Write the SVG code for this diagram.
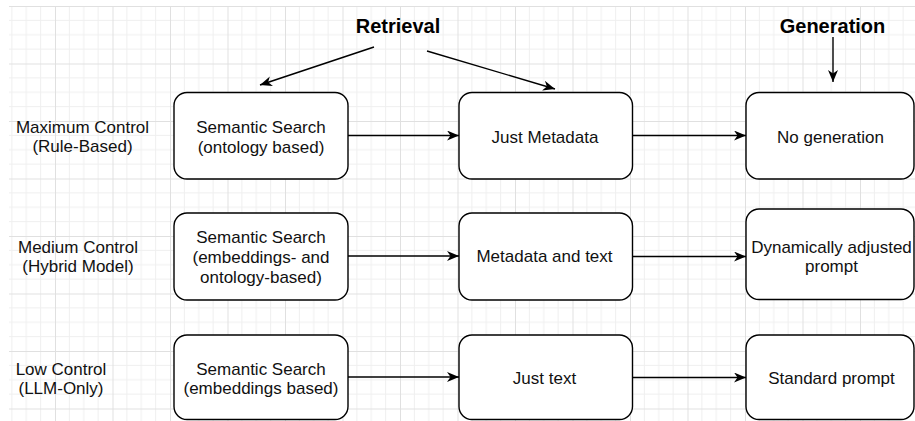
<svg xmlns="http://www.w3.org/2000/svg" width="915" height="421" viewBox="0 0 915 421">
  <style>
    .box { fill: #ffffff; stroke: #000000; stroke-width: 1.4; }
    .t { font-family: "Liberation Sans", Arial, sans-serif; font-size: 17px; fill: #111111; text-anchor: middle; }
    .h { font-family: "Liberation Sans", Arial, sans-serif; font-size: 20px; font-weight: bold; fill: #000000; text-anchor: middle; }
    .c { stroke: #000000; stroke-width: 1.4; fill: none; marker-end: url(#arr); }
  </style>
  <defs>
    <pattern id="grid" patternUnits="userSpaceOnUse" x="55" y="6" width="57.5" height="57.5">
      <path d="M14.375 0V57.5M28.75 0V57.5M43.125 0V57.5M0 14.375H57.5M0 28.75H57.5M0 43.125H57.5" stroke="#efefef" stroke-width="1" fill="none"/>
      <path d="M0.5 0V57.5M0 0.5H57.5" stroke="#e0e0e0" stroke-width="1" fill="none"/>
    </pattern>
    <marker id="arr" markerUnits="userSpaceOnUse" markerWidth="14" markerHeight="12" refX="12" refY="5" orient="auto">
      <path d="M0,0 L12,5 L0,10 L3.5,5 Z" fill="#000000"/>
    </marker>
  </defs>
  <rect x="0" y="0" width="915" height="421" fill="#ffffff"/>
  <rect x="9" y="6" width="906" height="415" fill="url(#grid)"/>

  <g id="connectors">
    <line class="c" x1="374" y1="47" x2="260" y2="85"/>
    <line class="c" x1="427" y1="51" x2="555" y2="89"/>
    <line class="c" x1="833" y1="37" x2="833" y2="82"/>
    <line class="c" x1="348" y1="135.5" x2="459" y2="135.5"/>
    <line class="c" x1="632" y1="135.5" x2="746" y2="135.5"/>
    <line class="c" x1="348" y1="256" x2="459" y2="256"/>
    <line class="c" x1="632" y1="256.5" x2="746" y2="256.5"/>
    <line class="c" x1="348" y1="377" x2="459" y2="377"/>
    <line class="c" x1="632" y1="377.5" x2="746" y2="377.5"/>
  </g>

  <g id="retrieval"><text class="h" x="398" y="33">Retrieval</text></g>
  <g id="generation"><text class="h" x="832.5" y="33">Generation</text></g>

  <g id="label-max">
    <text class="t" x="82.5" y="132.5">Maximum Control</text>
    <text class="t" x="82.5" y="152">(Rule-Based)</text>
  </g>
  <g id="label-med">
    <text class="t" x="78" y="252.5">Medium Control</text>
    <text class="t" x="78" y="272">(Hybrid Model)</text>
  </g>
  <g id="label-low">
    <text class="t" x="61" y="374.5">Low Control</text>
    <text class="t" x="61" y="394">(LLM-Only)</text>
  </g>

  <g id="ss-ontology">
    <rect class="box" x="174" y="92.5" width="174" height="86.5" rx="13"/>
    <text class="t" x="261" y="132.5">Semantic Search</text>
    <text class="t" x="261" y="152.5">(ontology based)</text>
  </g>
  <g id="just-metadata">
    <rect class="box" x="459" y="92.5" width="173.5" height="86.5" rx="13"/>
    <text class="t" x="545" y="142.5">Just Metadata</text>
  </g>
  <g id="no-generation">
    <rect class="box" x="746" y="92.5" width="168" height="86.5" rx="13"/>
    <text class="t" x="830.5" y="142.5">No generation</text>
  </g>

  <g id="ss-hybrid">
    <rect class="box" x="174" y="213" width="174" height="87" rx="13"/>
    <text class="t" x="261" y="242.5">Semantic Search</text>
    <text class="t" x="261" y="262.5">(embeddings- and</text>
    <text class="t" x="261" y="283">ontology-based)</text>
  </g>
  <g id="metadata-text">
    <rect class="box" x="459" y="213" width="173.5" height="87" rx="13"/>
    <text class="t" x="544.5" y="262">Metadata and text</text>
  </g>
  <g id="dynamic-prompt">
    <rect class="box" x="746" y="209" width="168" height="90.5" rx="13"/>
    <text class="t" x="831.5" y="252.5">Dynamically adjusted</text>
    <text class="t" x="831.5" y="272">prompt</text>
  </g>

  <g id="ss-embeddings">
    <rect class="box" x="174" y="335" width="174" height="84.5" rx="13"/>
    <text class="t" x="261" y="374.5">Semantic Search</text>
    <text class="t" x="261" y="394">(embeddings based)</text>
  </g>
  <g id="just-text">
    <rect class="box" x="459" y="335" width="173.5" height="84.5" rx="13"/>
    <text class="t" x="544.5" y="383.5">Just text</text>
  </g>
  <g id="standard-prompt">
    <rect class="box" x="746" y="335" width="168" height="84.5" rx="13"/>
    <text class="t" x="831.5" y="383.5">Standard prompt</text>
  </g>
</svg>
